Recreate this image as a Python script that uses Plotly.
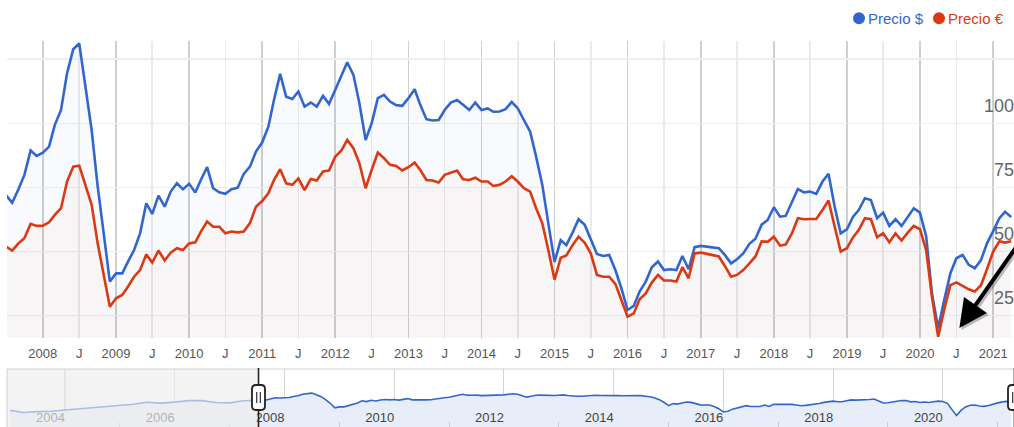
import plotly.graph_objects as go
import pandas as pd

# ---------------- data ----------------
months = pd.date_range("2007-07-01", "2021-04-01", freq="MS")

precio_usd = [
    72, 69, 74.3, 79.9, 89.4, 87.3,
    88.6, 90.9, 99.4, 105.2, 119.5, 128.9, 131.2, 115, 97.4, 75.5, 56, 38.3,
    41.5, 41.5, 46, 50.6, 57.1, 68.8, 64.7, 71.8, 67.5, 73.4, 76.6, 74.3,
    76.4, 73, 78, 82.9, 74.7, 73.1, 72.5, 74.3, 74.9, 80.3, 83.1, 89,
    92.5, 98.7, 109.1, 119.3, 110.4, 109.5, 112.4, 106.5, 108.1, 106.5, 110.7, 107.6,
    113, 118.9, 123.8, 118.9, 107.8, 93.5, 100, 109.8, 111.1, 108.5, 107.1, 106.8,
    109.8, 113.3, 107.2, 101.6, 101.1, 101.3, 105.2, 108.1, 109.1, 107.2, 105.2, 108.1,
    105.2, 105.8, 104.5, 104.6, 105.5, 108.3, 105.9, 101.3, 96.8, 87, 76, 61,
    46, 54.5, 52.5, 57.4, 62.6, 60.4, 54.5, 49.1, 48.3, 48.7, 42.8, 35.7,
    27.2, 28.8, 34.4, 38.3, 43.9, 46.1, 42.8, 43.1, 42.8, 48.3, 43.1, 51.7,
    52.2, 51.9, 51.7, 51.3, 48.7, 45.4, 47, 49.3, 53, 55, 60.5, 62.3,
    67.3, 63.6, 63.9, 69.5, 74.4, 73.1, 73.4, 72.5, 77.3, 80.3, 67.5, 57.1,
    58.7, 63.6, 66.2, 70.8, 70.1, 63, 65.2, 60, 62.6, 60, 63.6, 66.9,
    65.2, 56, 33.7, 20.1, 31, 41.5, 47.4, 48.7, 44.8, 43.5, 46.7, 53.2,
    58, 63, 65.5, 63.5,
]

precio_eur = [
    51.9, 50.4, 53.2, 55.2, 60.8, 60,
    60.1, 61.4, 64.3, 66.9, 77.3, 83.1, 83.5, 76, 68.2, 53.2, 40.2, 28.5,
    31.8, 33.1, 36.3, 40.2, 42.8, 48.9, 45.7, 50.4, 46.5, 49.6, 51.3, 50.6,
    53.2, 53.6, 57.8, 61.7, 59.7, 59.7, 57.1, 57.8, 57.5, 57.8, 61.1, 67.5,
    69.7, 72.7, 77.9, 82.1, 76.6, 76, 78.5, 74, 78.3, 77.7, 81.2, 81.6,
    87, 89.4, 93.5, 90.3, 84.4, 74.7, 81.8, 88.6, 86.4, 83.8, 83.4, 81.6,
    82.9, 84.7, 81.8, 77.9, 77.7, 76.9, 79.9, 80.8, 81.6, 78.2, 77.9, 78.8,
    77.3, 77.3, 75.6, 76, 77.3, 79.4, 77.3, 74.7, 73.4, 66.9, 61, 50.6,
    39, 47.6, 48.5, 52.5, 55.8, 53.4, 49.3, 40.9, 40.2, 40.2, 37.4, 31.1,
    24.6, 25.9, 31.4, 33.7, 37.9, 40.9, 38.7, 38.7, 38.3, 43.9, 39.6, 49.3,
    49.6, 49.1, 48.7, 48.1, 44.4, 40.2, 40.9, 42.8, 45.4, 48.1, 54, 53.8,
    55.8, 52.3, 52.7, 57.1, 63, 62.6, 62.7, 62.7, 66.2, 69.9, 59.7, 50,
    51.3, 55.6, 58.4, 63, 62.6, 55.6, 57.1, 53.6, 57.1, 54.3, 57.4, 60,
    58.7, 50.6, 32.4, 16.8, 27.2, 36.9, 38, 36.6, 35.3, 34.4, 36.9, 43.1,
    50, 54, 53.5, 54,
]

# navigator (overview) history before the zoomed window, quarterly, in $
nav_early_dates = pd.date_range("2003-01-01", "2007-04-01", freq="QS")
nav_early_usd = [31, 26, 28, 29, 32, 35, 38, 44, 48, 52, 61, 57, 62, 70, 70, 60, 58, 69]

year_ticks = pd.date_range("2008-01-01", "2021-01-01", freq="YS")
year_labels = [str(d.year) for d in year_ticks]
july_ticks = pd.date_range("2008-07-01", "2020-07-01", freq="12MS")
july_labels = ["J"] * len(july_ticks)

y_ticks = [25, 50, 75, 100, 125]
y_labels = ["25", "50", "75", "100", ""]

nav_ticks = pd.date_range("2004-01-01", "2020-01-01", freq="24MS")
nav_labels = [str(d.year) for d in nav_ticks]
nav_minor = pd.date_range("2005-01-01", "2021-01-01", freq="24MS")

# ---------------- layout helpers ----------------
W, H = 1014, 427
ML, MT = 7, 41


def px(x):
    return (x - ML) / (W - ML)


def py(y):
    return (H - y) / (H - MT)


BLUE = "#3366cc"
RED = "#dc3912"
FONT = "Liberation Sans, Arial, sans-serif"

fig = go.Figure()

fig.add_trace(go.Scatter(
    x=months, y=precio_usd, mode="lines", name="Precio $",
    line=dict(color=BLUE, width=2.6), fill="tozeroy",
    fillcolor="rgba(51,102,204,0.03)", showlegend=False, hoverinfo="skip"))
fig.add_trace(go.Scatter(
    x=months, y=precio_eur, mode="lines", name="Precio €",
    line=dict(color=RED, width=2.6), fill="tozeroy",
    fillcolor="rgba(220,57,18,0.025)", showlegend=False, hoverinfo="skip"))
# invisible carrier for the July axis
fig.add_trace(go.Scatter(
    x=months, y=precio_usd, xaxis="x2", yaxis="y", mode="lines",
    line=dict(width=0, color="rgba(0,0,0,0)"), showlegend=False, hoverinfo="skip"))

# navigator
nav_x = list(nav_early_dates) + list(months)
nav_y = list(nav_early_usd) + list(precio_usd)
fig.add_trace(go.Scatter(
    x=nav_x, y=nav_y, xaxis="x3", yaxis="y3", mode="lines",
    line=dict(color=BLUE, width=1.6), fill="tozeroy",
    fillcolor="#e8eef9", showlegend=False, hoverinfo="skip"))

main_range = ["2007-07-06", "2021-04-15"]

fig.update_layout(
    width=W, height=H,
    margin=dict(l=ML, r=0, t=MT, b=0),
    paper_bgcolor="white", plot_bgcolor="white",
    font=dict(family=FONT, color="#555555"),
    xaxis=dict(
        type="date", range=main_range, domain=[0, 1], anchor="y",
        tickmode="array", tickvals=year_ticks, ticktext=year_labels,
        showgrid=True, gridcolor="#cfcfcf", gridwidth=1.6,
        ticks="", ticklabelstandoff=6, ticklabeloverflow="allow",
        zeroline=False, showline=False,
        tickfont=dict(size=13, color="#555555")),
    xaxis2=dict(
        type="date", range=main_range, overlaying="x", anchor="y", side="bottom",
        tickmode="array", tickvals=july_ticks, ticktext=july_labels,
        showgrid=True, gridcolor="#e9e9ee", gridwidth=1.6,
        ticks="", ticklabelstandoff=6, ticklabeloverflow="allow",
        zeroline=False, showline=False,
        tickfont=dict(size=13, color="#555555")),
    yaxis=dict(
        domain=[py(338), 1], range=[16.3, 132.1], anchor="x", side="right",
        tickmode="array", tickvals=y_ticks, ticktext=y_labels,
        ticklabelposition="inside", ticklabelshift=-18, ticklabelstandoff=-3,
        ticklabeloverflow="allow",
        showgrid=True, gridcolor="#ededf2", gridwidth=1.6, zeroline=False,
        ticks="", tickfont=dict(size=18, color="#666666")),
    xaxis3=dict(
        type="date", range=["2002-12-11", "2021-04-19"], domain=[0, 1], anchor="y3",
        tickmode="array", tickvals=nav_ticks, ticktext=nav_labels,
        ticklabelposition="inside left", ticks="", ticklabelstandoff=-4,
        ticklabeloverflow="allow",
        minor=dict(tickmode="array", tickvals=nav_minor, ticks="inside",
                   ticklen=5, tickcolor="#cccccc", showgrid=False),
        showgrid=True, gridcolor="#d4d4d4", gridwidth=1.2, zeroline=False,
        tickfont=dict(size=13, color="#444444")),
    yaxis3=dict(
        domain=[0, py(369)], type="log", range=[0.89, 2.99], anchor="x3",
        showgrid=False, showticklabels=False, ticks="", zeroline=False),
)

shapes = []
# shaded (unselected) part of navigator
shapes.append(dict(type="rect", xref="x3", yref="paper", x0="2002-12-01", x1="2007-07-06",
                   y0=0, y1=py(369), fillcolor="rgba(236,236,236,0.65)", line=dict(width=0),
                   layer="above"))
# navigator frame
shapes.append(dict(type="rect", xref="paper", yref="paper", x0=0, x1=1, y0=-0.01, y1=py(369),
                   line=dict(color="#d0d0d0", width=1), fillcolor="rgba(0,0,0,0)", layer="above"))


def handle(xc):
    x0, x1 = xc - 6.5, xc + 6.5
    y0, y1 = 385, 410
    r = 4
    pts = (f"M {px(x0 + r)},{py(y0)} L {px(x1 - r)},{py(y0)} "
           f"Q {px(x1)},{py(y0)} {px(x1)},{py(y0 + r)} L {px(x1)},{py(y1 - r)} "
           f"Q {px(x1)},{py(y1)} {px(x1 - r)},{py(y1)} L {px(x0 + r)},{py(y1)} "
           f"Q {px(x0)},{py(y1)} {px(x0)},{py(y1 - r)} L {px(x0)},{py(y0 + r)} "
           f"Q {px(x0)},{py(y0)} {px(x0 + r)},{py(y0)} Z")
    out = [
        dict(type="line", xref="paper", yref="paper", x0=px(xc), x1=px(xc),
             y0=py(368), y1=py(430), line=dict(color="#222222", width=1.6), layer="above"),
        dict(type="path", xref="paper", yref="paper", path=pts, fillcolor="white",
             line=dict(color="#222222", width=1.8), layer="above"),
        dict(type="line", xref="paper", yref="paper", x0=px(xc - 1.8), x1=px(xc - 1.8),
             y0=py(392), y1=py(403), line=dict(color="#333333", width=1.2), layer="above"),
        dict(type="line", xref="paper", yref="paper", x0=px(xc + 1.8), x1=px(xc + 1.8),
             y0=py(392), y1=py(403), line=dict(color="#333333", width=1.2), layer="above"),
    ]
    return out


shapes += handle(258.5)
shapes += handle(1014.5)

# legend dots
for cx, col in [(859, BLUE), (939, RED)]:
    shapes.append(dict(type="circle", xref="paper", yref="paper",
                       x0=px(cx - 6), x1=px(cx + 6), y0=py(24.2), y1=py(12.2),
                       fillcolor=col, line=dict(width=0), layer="above"))

fig.update_layout(shapes=shapes)

arrow_tip = ("2020-07-16", 20.2)
arrow_tail = ("2021-05-16", 54.0)

annotations = [
    dict(xref="paper", yref="paper", x=px(866), y=py(18.5), text="Precio $",
         showarrow=False, xanchor="left", yanchor="middle",
         font=dict(size=15, color=BLUE, family=FONT)),
    dict(xref="paper", yref="paper", x=px(946), y=py(18.5), text="Precio €",
         showarrow=False, xanchor="left", yanchor="middle",
         font=dict(size=15, color=RED, family=FONT)),
    # arrow shadow
    dict(xref="x", yref="y", x=arrow_tip[0], y=arrow_tip[1], text="", showarrow=True,
         axref="x", ayref="y", ax=arrow_tail[0], ay=arrow_tail[1],
         arrowhead=2, arrowsize=1.4, arrowwidth=4,
         arrowcolor="rgba(0,0,0,0.25)", xshift=2, yshift=-2, standoff=0),
    dict(xref="x", yref="y", x=arrow_tip[0], y=arrow_tip[1], text="", showarrow=True,
         axref="x", ayref="y", ax=arrow_tail[0], ay=arrow_tail[1],
         arrowhead=2, arrowsize=1.4, arrowwidth=4,
         arrowcolor="#000000", standoff=0),
]
fig.update_layout(annotations=annotations)

fig.write_html(
    "out.html",
    config={"displayModeBar": False, "staticPlot": True},
    post_script="document.body.style.margin='0px';document.body.style.overflow='hidden';"
                "document.documentElement.style.overflow='hidden';",
)
